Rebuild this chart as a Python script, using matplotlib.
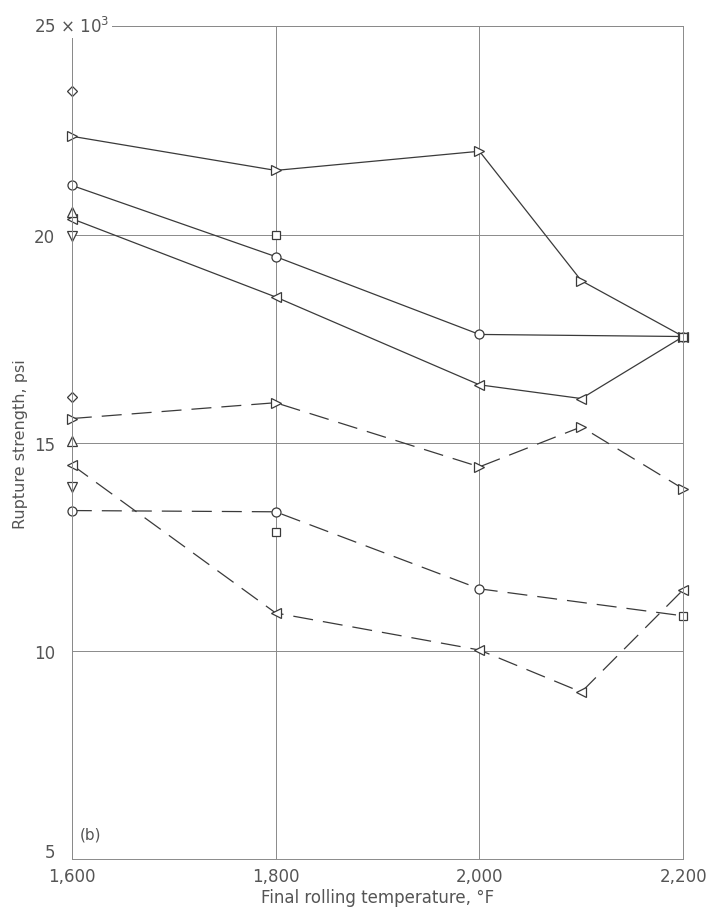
import matplotlib
matplotlib.use('Agg')
import matplotlib.pyplot as plt
from matplotlib.transforms import ScaledTranslation

# --- data (rupture strength in 10^3 psi) ---
temps = [1600, 1800, 2000, 2100, 2200]
temps_4 = [1600, 1800, 2000, 2200]

# solid lines
right_solid = [22.36, 21.54, 22.0, 18.89, 17.55]
circle_solid = [21.18, 19.47, 17.6, 17.55]
left_solid = [20.38, 18.5, 16.39, 16.06, 17.55]

# dashed lines
right_dashed = [15.58, 15.96, 14.42, 15.38, 13.89]
circle_dashed = [13.37, 13.34, 11.49, 10.84]
left_dashed = [14.47, 10.91, 10.02, 9.01, 11.47]

# isolated points
diamond_x = [1600, 1600]
diamond_y = [23.44, 16.1]
up_x = [1600, 1600]
up_y = [20.53, 15.05]
down_x = [1600, 1600]
down_y = [19.97, 13.94]
square_x = [1800, 1800, 2200, 2200]
square_y = [20.0, 12.86, 17.55, 10.84]

ink = '#3a3a3a'
grid_c = '#8a8a8a'
txt_c = '#555555'

fig = plt.figure(figsize=(7.11, 9.12), dpi=100)
ax = fig.add_axes([0.101, 0.057, 0.86, 0.913])

mk = dict(markersize=6.5, markerfacecolor='white', markeredgecolor=ink,
          markeredgewidth=0.9, color=ink, linewidth=0.9, clip_on=False)
dash = (0, (16, 8))

ax.plot(temps, right_solid, marker='>', **mk)
ax.plot(temps_4, circle_solid, marker='o', **mk)
ax.plot(temps, left_solid, marker='<', **mk)

ax.plot(temps, right_dashed, marker='>', linestyle=dash, **mk)
ax.plot(temps_4, circle_dashed, marker='o', linestyle=dash, markevery=[0, 1, 2], **mk)
ax.plot(temps, left_dashed, marker='<', linestyle=dash, **mk)

pt = dict(linestyle='none', markersize=6.5, markerfacecolor='white',
          markeredgecolor=ink, markeredgewidth=0.9, clip_on=False)
ax.plot(diamond_x, diamond_y, marker='D', **{**pt, 'markersize': 5.5})
ax.plot(up_x, up_y, marker='^', **pt)
ax.plot(down_x, down_y, marker='v', **pt)
ax.plot(square_x, square_y, marker='s', **{**pt, 'markersize': 6})

ax.set_xlim(1600, 2200)
ax.set_ylim(5, 25)
ax.set_xticks([1600, 1800, 2000, 2200])
ax.set_xticklabels(['1,600', '1,800', '2,000', '2,200'])
ax.set_yticks([5, 10, 15, 20, 25])
ax.set_yticklabels(['5', '10', '15', '20', ''])
ax.tick_params(length=0, labelsize=12, colors=txt_c)
ax.tick_params(axis='y', pad=12)
ax.tick_params(axis='x', pad=6)
ax.grid(True, color=grid_c, linewidth=0.7)
ax.set_axisbelow(True)
for s in ax.spines.values():
    s.set_color(grid_c)
    s.set_linewidth(0.7)

# lift the bottom "5" so it sits above the "1,600" label
lbl5 = ax.get_yticklabels()[0]
lbl5.set_transform(lbl5.get_transform() + ScaledTranslation(0, 0.09, fig.dpi_scale_trans))

ax.text(1600, 25, '25 × 10$^3$', ha='center', va='center', fontsize=12,
        color=txt_c, bbox=dict(facecolor='white', edgecolor='none', pad=1.5))

ax.text(1608, 5.5, '(b)', fontsize=11, color=txt_c)
ax.set_ylabel('Rupture strength, psi', fontsize=11.5, color=txt_c)
ax.yaxis.set_label_coords(-0.072, 0.5)
ax.set_xlabel('Final rolling temperature, °F', fontsize=12, color=txt_c, labelpad=2)

fig.savefig('out.png', dpi=100, facecolor='white')
